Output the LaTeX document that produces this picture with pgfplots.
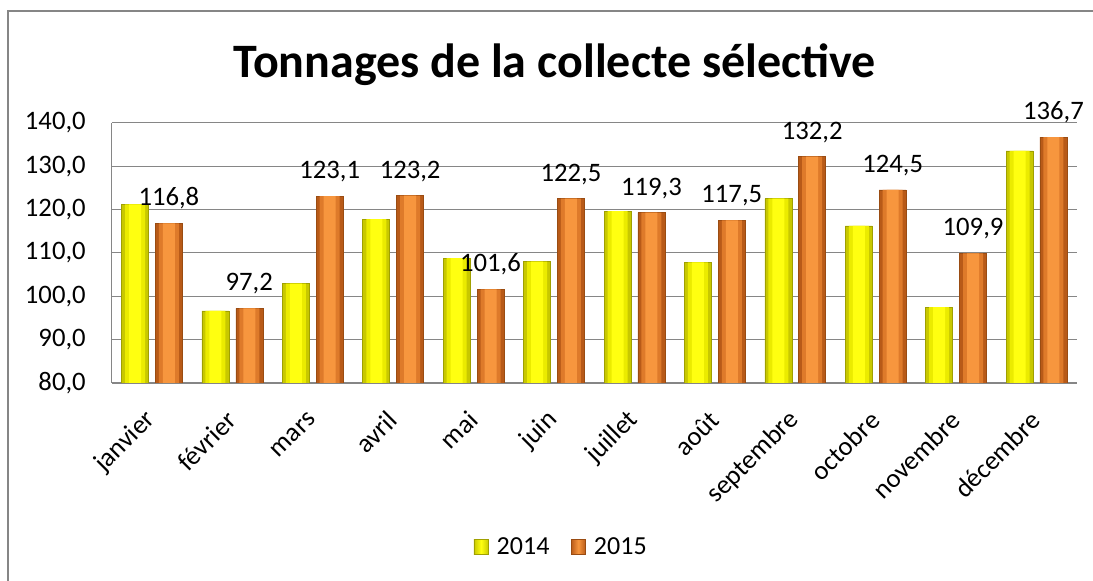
\documentclass[border=0pt]{standalone}
\usepackage{fontspec}
\setmainfont{Carlito}
\usepackage{pgfplots}
\pgfplotsset{compat=1.18}

\definecolor{gridgray}{HTML}{868686}
\definecolor{ylwEdge}{HTML}{C8C800}
\definecolor{ylwHalf}{HTML}{EBEB00}
\definecolor{ylwMid}{HTML}{FFFF10}
\definecolor{ylwLine}{HTML}{A0A000}
\definecolor{orgEdge}{HTML}{B85A18}
\definecolor{orgHalf}{HTML}{DE7A2A}
\definecolor{orgMid}{HTML}{F7963E}
\definecolor{orgLine}{HTML}{9A4C12}

\pgfplotstableread{
idx  y2014  y2015
0    121.2  116.8
1    96.6   97.2
2    102.9  123.1
3    117.8  123.2
4    108.8  101.6
5    108.0  122.5
6    119.6  119.3
7    107.8  117.5
8    122.5  132.2
9    116.2  124.5
10   97.5   109.9
11   133.5  136.7
}\tonnages

\begin{document}
\begin{tikzpicture}
% page frame (1px = 0.75pt)
\path[use as bounding box] (0,0) rectangle (819.75pt,435.75pt);
\draw[gridgray, line width=1.5pt] (6pt,0) -- (6pt,427.5pt) -- (819.75pt,427.5pt);

\node[font=\fontsize{36}{42}\selectfont\bfseries] at (416pt,387pt) {Tonnages de la collecte sélective};

\begin{axis}[
    at={(83.8pt,148.5pt)}, anchor=south west,
    scale only axis,
    width=723.75pt, height=195.2pt,
    ybar,
    xmin=-0.5, xmax=11.5,
    ymin=80, ymax=140,
    ytick={80,90,...,140},
    xtick=data,
    xticklabels={janvier,février,mars,avril,mai,juin,juillet,août,septembre,octobre,novembre,décembre},
    axis x line*=bottom, axis y line*=left,
    axis line style={draw=gridgray, line width=1pt},
    ymajorgrids=true,
    grid style={draw=gridgray, line width=0.8pt},
    tick style={draw=none},
    ticklabel style={font=\fontsize{20}{24}\selectfont},
    /pgf/number format/assume math mode=true,
    yticklabel style={xshift=-16pt, /pgf/number format/.cd, fixed, fixed zerofill, precision=1, use comma},
    xticklabel style={xshift=2pt, yshift=-18pt, rotate=45, anchor=east},
    legend style={at={(0.466,-0.63)}, anchor=center, draw=none, legend columns=2,
        font=\fontsize{19.5}{23}\selectfont,
        /tikz/every odd column/.append style={column sep=4pt},
        /tikz/every even column/.append style={column sep=14pt}},
]
% 2014 : outer bar, then lighter inner bands
\addplot[draw=ylwLine, fill=ylwEdge, bar width=20.25pt, bar shift=-12.7pt,
    legend image code/.code={\draw[ylwLine, left color=ylwEdge, right color=ylwEdge, middle color=ylwMid] (0pt,-5.5pt) rectangle (11pt,5.5pt);}]
    table[x=idx, y=y2014] {\tonnages};
\addlegendentry{2014}
\addplot[draw=none, fill=ylwHalf, bar width=15pt, bar shift=-12.7pt, forget plot]
    table[x=idx, y=y2014] {\tonnages};
\addplot[draw=none, fill=ylwMid, bar width=9pt, bar shift=-12.7pt, forget plot]
    table[x=idx, y=y2014] {\tonnages};
% 2015
\addplot[draw=orgLine, fill=orgEdge, bar width=20.25pt, bar shift=12.7pt,
    legend image code/.code={\draw[orgLine, left color=orgEdge, right color=orgEdge, middle color=orgMid] (0pt,-5.5pt) rectangle (11pt,5.5pt);}]
    table[x=idx, y=y2015] {\tonnages};
\addlegendentry{2015}
\addplot[draw=none, fill=orgHalf, bar width=15pt, bar shift=12.7pt, forget plot]
    table[x=idx, y=y2015] {\tonnages};
\addplot[draw=none, fill=orgMid, bar width=9pt, bar shift=12.7pt, forget plot,
    nodes near coords,
    every node near coord/.append style={text=black, font=\fontsize{20}{24}\selectfont, yshift=7pt,
        /pgf/number format/.cd, fixed, fixed zerofill, precision=1, use comma},
    /pgf/number format/assume math mode=true]
    table[x=idx, y=y2015] {\tonnages};
\end{axis}
\end{tikzpicture}
\end{document}
